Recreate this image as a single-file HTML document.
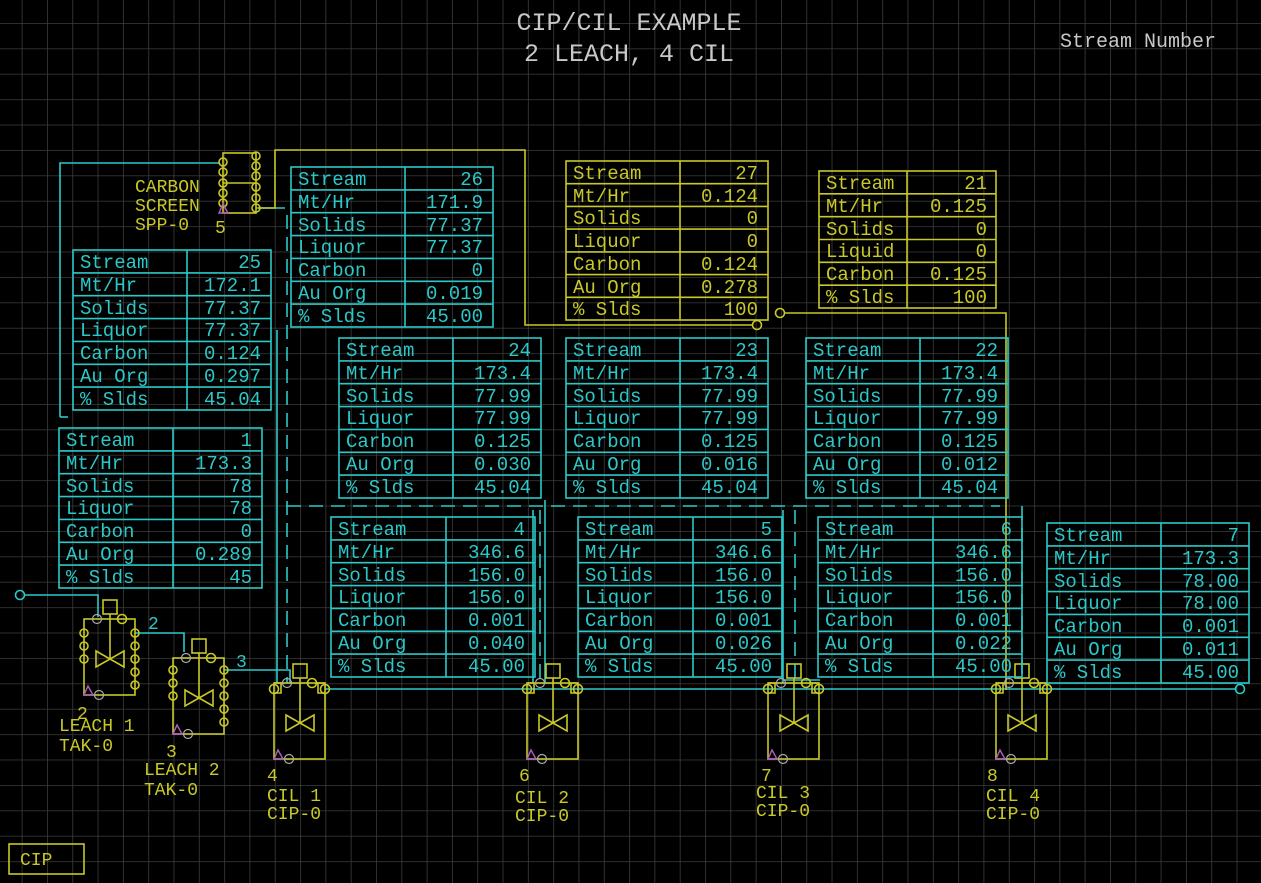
<!DOCTYPE html>
<html><head><meta charset="utf-8"><style>
html,body{margin:0;padding:0;background:#000;}
svg{display:block;}
text{font-family:"Liberation Mono",monospace;}
.c{fill:none;stroke:#2cc8c8;stroke-width:1.6}
.y{fill:none;stroke:#c8c828;stroke-width:1.6}
.tc{fill:#2cc8c8;font-size:19px}
.ty{fill:#c8c828;font-size:19px}
.e{text-anchor:end}
.lbl{fill:#c8c828;font-size:18px}
</style></head><body>
<svg width="1261" height="883" viewBox="0 0 1261 883" xmlns="http://www.w3.org/2000/svg">
<defs>
<pattern id="g" x="21.7" y="23" width="25.31" height="25.4" patternUnits="userSpaceOnUse">
<path d="M0 0H25.31M0 0V25.4" stroke="#3c3c3c" stroke-width="1.6" fill="none"/>
</pattern>
<g id="tank">
<rect x="0" y="0" width="51" height="76" class="y"/>
<rect x="19" y="-19" width="14" height="14" class="y"/>
<path d="M26 -5V40M12 32L40 48V32L12 48Z" class="y"/>
<path d="M0 76l4-9l5 9z" fill="none" stroke="#b060c0" stroke-width="1.4"/>
<circle cx="15" cy="76" r="4.5" fill="none" stroke="#aaa" stroke-width="1.2"/>
<circle cx="13" cy="0" r="4.5" fill="none" stroke="#aaa" stroke-width="1.2"/>
<circle cx="38" cy="0" r="4.5" class="y"/>
</g>
<g id="cil">
<use href="#tank"/>
<path d="M0 0h7v10h-7M51 0h-7v10h7" class="y"/>
<circle cx="0" cy="6" r="4.5" class="y"/>
<circle cx="51" cy="6" r="4.5" class="y"/>
</g>
</defs>
<rect width="1261" height="883" fill="#000"/>
<rect width="1261" height="883" fill="url(#g)"/>

<text x="629" y="30" text-anchor="middle" fill="#c8c8c8" style="font-size:25px">CIP/CIL EXAMPLE</text>
<text x="629" y="61" text-anchor="middle" fill="#c8c8c8" style="font-size:25px">2 LEACH, 4 CIL</text>
<text x="1060" y="47" fill="#c8c8c8" style="font-size:20px">Stream Number</text>

<!-- connectors cyan -->
<path class="c" d="M25 595H98V617M135 633H184V652M224 670H290V683M325 689H1236M60 417V163H220M256 208H285M277 330V683M533 510V683M545 500V683M783 510V683M783 680H820"/>
<circle cx="20" cy="595" r="4.5" class="c"/>
<circle cx="1240" cy="689" r="4.5" class="c"/>
<path class="c" stroke-dasharray="14,8" d="M287 215V683M287 506H1000M795 510V683M1022 506V683M540 510V683"/>
<path class="c" d="M60 417h8"/>
<!-- yellow connectors -->
<path class="y" d="M258 208H275V150H525V325H752M785 313H1006V690"/>
<circle cx="757" cy="325" r="4.5" class="y"/>
<circle cx="780" cy="313" r="4.5" class="y"/>

<!-- carbon screen -->
<rect x="223" y="153" width="33" height="60" class="y"/>
<path class="y" d="M223 183H256"/>
<g class="y"><circle cx="223" cy="162" r="4"/><circle cx="223" cy="172" r="4"/><circle cx="223" cy="183" r="4"/><circle cx="223" cy="193" r="4"/><circle cx="223" cy="203" r="4"/>
<circle cx="256" cy="156" r="4"/><circle cx="256" cy="166" r="4"/><circle cx="256" cy="176" r="4"/><circle cx="256" cy="187" r="4"/><circle cx="256" cy="198" r="4"/><circle cx="256" cy="208" r="4"/></g>
<path d="M219 213l4-9l5 9z" fill="none" stroke="#b060c0" stroke-width="1.4"/>
<text class="lbl" x="135" y="192">CARBON</text>
<text class="lbl" x="135" y="211">SCREEN</text>
<text class="lbl" x="135" y="230">SPP-0</text>
<text class="lbl" x="215" y="233">5</text>

<!-- tanks -->
<use href="#tank" x="84" y="619"/>
<g class="y"><circle cx="84" cy="633" r="4"/><circle cx="84" cy="646" r="4"/><circle cx="84" cy="659" r="4"/><circle cx="135" cy="633" r="4"/><circle cx="135" cy="646" r="4"/><circle cx="135" cy="659" r="4"/><circle cx="135" cy="672" r="4"/><circle cx="135" cy="685" r="4"/></g>
<use href="#tank" x="173" y="658"/>
<g class="y"><circle cx="173" cy="670" r="4"/><circle cx="173" cy="683" r="4"/><circle cx="173" cy="696" r="4"/><circle cx="224" cy="670" r="4"/><circle cx="224" cy="683" r="4"/><circle cx="224" cy="696" r="4"/><circle cx="224" cy="709" r="4"/><circle cx="224" cy="722" r="4"/></g>
<use href="#cil" x="274" y="683"/>
<use href="#cil" x="527" y="683"/>
<use href="#cil" x="768" y="683"/>
<use href="#cil" x="996" y="683"/>

<text class="lbl" x="77" y="719">2</text>
<text class="lbl" x="59" y="731">LEACH 1</text>
<text class="lbl" x="59" y="751">TAK-0</text>
<text class="lbl" x="166" y="757">3</text>
<text class="lbl" x="144" y="775">LEACH 2</text>
<text class="lbl" x="144" y="795">TAK-0</text>
<text class="lbl" x="267" y="781">4</text>
<text class="lbl" x="267" y="801">CIL 1</text>
<text class="lbl" x="267" y="819">CIP-0</text>
<text class="lbl" x="519" y="781">6</text>
<text class="lbl" x="515" y="803">CIL 2</text>
<text class="lbl" x="515" y="821">CIP-0</text>
<text class="lbl" x="761" y="781">7</text>
<text class="lbl" x="756" y="798">CIL 3</text>
<text class="lbl" x="756" y="816">CIP-0</text>
<text class="lbl" x="987" y="781">8</text>
<text class="lbl" x="986" y="801">CIL 4</text>
<text class="lbl" x="986" y="819">CIP-0</text>
<text class="tc" x="148" y="629" style="font-size:18px">2</text>
<text class="tc" x="236" y="667" style="font-size:18px">3</text>

<rect x="9" y="844" width="75" height="30" class="y"/>
<text class="lbl" x="20" y="865">CIP</text>

<!-- tables -->
<g transform="translate(291,167)">
<rect width="202" height="160" class="c"/><path class="c" d="M114 0V160M0 22.9H202M0 45.7H202M0 68.6H202M0 91.4H202M0 114.3H202M0 137.1H202"/>
<text class="tc" x="7" y="18">Stream</text><text class="tc e" x="192" y="18">26</text>
<text class="tc" x="7" y="41">Mt/Hr</text><text class="tc e" x="192" y="41">171.9</text>
<text class="tc" x="7" y="64">Solids</text><text class="tc e" x="192" y="64">77.37</text>
<text class="tc" x="7" y="86">Liquor</text><text class="tc e" x="192" y="86">77.37</text>
<text class="tc" x="7" y="109">Carbon</text><text class="tc e" x="192" y="109">0</text>
<text class="tc" x="7" y="132">Au Org</text><text class="tc e" x="192" y="132">0.019</text>
<text class="tc" x="7" y="155">% Slds</text><text class="tc e" x="192" y="155">45.00</text>
</g>
<g transform="translate(73,250)">
<rect width="198" height="160" class="c"/><path class="c" d="M114 0V160M0 22.9H198M0 45.7H198M0 68.6H198M0 91.4H198M0 114.3H198M0 137.1H198"/>
<text class="tc" x="7" y="18">Stream</text><text class="tc e" x="188" y="18">25</text>
<text class="tc" x="7" y="41">Mt/Hr</text><text class="tc e" x="188" y="41">172.1</text>
<text class="tc" x="7" y="64">Solids</text><text class="tc e" x="188" y="64">77.37</text>
<text class="tc" x="7" y="86">Liquor</text><text class="tc e" x="188" y="86">77.37</text>
<text class="tc" x="7" y="109">Carbon</text><text class="tc e" x="188" y="109">0.124</text>
<text class="tc" x="7" y="132">Au Org</text><text class="tc e" x="188" y="132">0.297</text>
<text class="tc" x="7" y="155">% Slds</text><text class="tc e" x="188" y="155">45.04</text>
</g>
<g transform="translate(59,428)">
<rect width="203" height="160" class="c"/><path class="c" d="M114 0V160M0 22.9H203M0 45.7H203M0 68.6H203M0 91.4H203M0 114.3H203M0 137.1H203"/>
<text class="tc" x="7" y="18">Stream</text><text class="tc e" x="193" y="18">1</text>
<text class="tc" x="7" y="41">Mt/Hr</text><text class="tc e" x="193" y="41">173.3</text>
<text class="tc" x="7" y="64">Solids</text><text class="tc e" x="193" y="64">78</text>
<text class="tc" x="7" y="86">Liquor</text><text class="tc e" x="193" y="86">78</text>
<text class="tc" x="7" y="109">Carbon</text><text class="tc e" x="193" y="109">0</text>
<text class="tc" x="7" y="132">Au Org</text><text class="tc e" x="193" y="132">0.289</text>
<text class="tc" x="7" y="155">% Slds</text><text class="tc e" x="193" y="155">45</text>
</g>
<g transform="translate(566,161)">
<rect width="202" height="159" class="y"/><path class="y" d="M114 0V159M0 22.7H202M0 45.4H202M0 68.1H202M0 90.9H202M0 113.6H202M0 136.3H202"/>
<text class="ty" x="7" y="18">Stream</text><text class="ty e" x="192" y="18">27</text>
<text class="ty" x="7" y="41">Mt/Hr</text><text class="ty e" x="192" y="41">0.124</text>
<text class="ty" x="7" y="63">Solids</text><text class="ty e" x="192" y="63">0</text>
<text class="ty" x="7" y="86">Liquor</text><text class="ty e" x="192" y="86">0</text>
<text class="ty" x="7" y="109">Carbon</text><text class="ty e" x="192" y="109">0.124</text>
<text class="ty" x="7" y="132">Au Org</text><text class="ty e" x="192" y="132">0.278</text>
<text class="ty" x="7" y="154">% Slds</text><text class="ty e" x="192" y="154">100</text>
</g>
<g transform="translate(819,171)">
<rect width="177" height="137" class="y"/><path class="y" d="M88 0V137M0 22.8H177M0 45.7H177M0 68.5H177M0 91.3H177M0 114.2H177"/>
<text class="ty" x="7" y="18">Stream</text><text class="ty e" x="168" y="18">21</text>
<text class="ty" x="7" y="41">Mt/Hr</text><text class="ty e" x="168" y="41">0.125</text>
<text class="ty" x="7" y="64">Solids</text><text class="ty e" x="168" y="64">0</text>
<text class="ty" x="7" y="86">Liquid</text><text class="ty e" x="168" y="86">0</text>
<text class="ty" x="7" y="109">Carbon</text><text class="ty e" x="168" y="109">0.125</text>
<text class="ty" x="7" y="132">% Slds</text><text class="ty e" x="168" y="132">100</text>
</g>
<g transform="translate(339,338)">
<rect width="202" height="160" class="c"/><path class="c" d="M114 0V160M0 22.9H202M0 45.7H202M0 68.6H202M0 91.4H202M0 114.3H202M0 137.1H202"/>
<text class="tc" x="7" y="18">Stream</text><text class="tc e" x="192" y="18">24</text>
<text class="tc" x="7" y="41">Mt/Hr</text><text class="tc e" x="192" y="41">173.4</text>
<text class="tc" x="7" y="64">Solids</text><text class="tc e" x="192" y="64">77.99</text>
<text class="tc" x="7" y="86">Liquor</text><text class="tc e" x="192" y="86">77.99</text>
<text class="tc" x="7" y="109">Carbon</text><text class="tc e" x="192" y="109">0.125</text>
<text class="tc" x="7" y="132">Au Org</text><text class="tc e" x="192" y="132">0.030</text>
<text class="tc" x="7" y="155">% Slds</text><text class="tc e" x="192" y="155">45.04</text>
</g>
<g transform="translate(566,338)">
<rect width="202" height="160" class="c"/><path class="c" d="M114 0V160M0 22.9H202M0 45.7H202M0 68.6H202M0 91.4H202M0 114.3H202M0 137.1H202"/>
<text class="tc" x="7" y="18">Stream</text><text class="tc e" x="192" y="18">23</text>
<text class="tc" x="7" y="41">Mt/Hr</text><text class="tc e" x="192" y="41">173.4</text>
<text class="tc" x="7" y="64">Solids</text><text class="tc e" x="192" y="64">77.99</text>
<text class="tc" x="7" y="86">Liquor</text><text class="tc e" x="192" y="86">77.99</text>
<text class="tc" x="7" y="109">Carbon</text><text class="tc e" x="192" y="109">0.125</text>
<text class="tc" x="7" y="132">Au Org</text><text class="tc e" x="192" y="132">0.016</text>
<text class="tc" x="7" y="155">% Slds</text><text class="tc e" x="192" y="155">45.04</text>
</g>
<g transform="translate(806,338)">
<rect width="202" height="160" class="c"/><path class="c" d="M114 0V160M0 22.9H202M0 45.7H202M0 68.6H202M0 91.4H202M0 114.3H202M0 137.1H202"/>
<text class="tc" x="7" y="18">Stream</text><text class="tc e" x="192" y="18">22</text>
<text class="tc" x="7" y="41">Mt/Hr</text><text class="tc e" x="192" y="41">173.4</text>
<text class="tc" x="7" y="64">Solids</text><text class="tc e" x="192" y="64">77.99</text>
<text class="tc" x="7" y="86">Liquor</text><text class="tc e" x="192" y="86">77.99</text>
<text class="tc" x="7" y="109">Carbon</text><text class="tc e" x="192" y="109">0.125</text>
<text class="tc" x="7" y="132">Au Org</text><text class="tc e" x="192" y="132">0.012</text>
<text class="tc" x="7" y="155">% Slds</text><text class="tc e" x="192" y="155">45.04</text>
</g>
<g transform="translate(331,517)">
<rect width="204" height="160" class="c"/><path class="c" d="M115 0V160M0 22.9H204M0 45.7H204M0 68.6H204M0 91.4H204M0 114.3H204M0 137.1H204"/>
<text class="tc" x="7" y="18">Stream</text><text class="tc e" x="194" y="18">4</text>
<text class="tc" x="7" y="41">Mt/Hr</text><text class="tc e" x="194" y="41">346.6</text>
<text class="tc" x="7" y="64">Solids</text><text class="tc e" x="194" y="64">156.0</text>
<text class="tc" x="7" y="86">Liquor</text><text class="tc e" x="194" y="86">156.0</text>
<text class="tc" x="7" y="109">Carbon</text><text class="tc e" x="194" y="109">0.001</text>
<text class="tc" x="7" y="132">Au Org</text><text class="tc e" x="194" y="132">0.040</text>
<text class="tc" x="7" y="155">% Slds</text><text class="tc e" x="194" y="155">45.00</text>
</g>
<g transform="translate(578,517)">
<rect width="204" height="160" class="c"/><path class="c" d="M115 0V160M0 22.9H204M0 45.7H204M0 68.6H204M0 91.4H204M0 114.3H204M0 137.1H204"/>
<text class="tc" x="7" y="18">Stream</text><text class="tc e" x="194" y="18">5</text>
<text class="tc" x="7" y="41">Mt/Hr</text><text class="tc e" x="194" y="41">346.6</text>
<text class="tc" x="7" y="64">Solids</text><text class="tc e" x="194" y="64">156.0</text>
<text class="tc" x="7" y="86">Liquor</text><text class="tc e" x="194" y="86">156.0</text>
<text class="tc" x="7" y="109">Carbon</text><text class="tc e" x="194" y="109">0.001</text>
<text class="tc" x="7" y="132">Au Org</text><text class="tc e" x="194" y="132">0.026</text>
<text class="tc" x="7" y="155">% Slds</text><text class="tc e" x="194" y="155">45.00</text>
</g>
<g transform="translate(818,517)">
<rect width="204" height="160" class="c"/><path class="c" d="M115 0V160M0 22.9H204M0 45.7H204M0 68.6H204M0 91.4H204M0 114.3H204M0 137.1H204"/>
<text class="tc" x="7" y="18">Stream</text><text class="tc e" x="194" y="18">6</text>
<text class="tc" x="7" y="41">Mt/Hr</text><text class="tc e" x="194" y="41">346.6</text>
<text class="tc" x="7" y="64">Solids</text><text class="tc e" x="194" y="64">156.0</text>
<text class="tc" x="7" y="86">Liquor</text><text class="tc e" x="194" y="86">156.0</text>
<text class="tc" x="7" y="109">Carbon</text><text class="tc e" x="194" y="109">0.001</text>
<text class="tc" x="7" y="132">Au Org</text><text class="tc e" x="194" y="132">0.022</text>
<text class="tc" x="7" y="155">% Slds</text><text class="tc e" x="194" y="155">45.00</text>
</g>
<g transform="translate(1047,523)">
<rect width="202" height="160" class="c"/><path class="c" d="M114 0V160M0 22.9H202M0 45.7H202M0 68.6H202M0 91.4H202M0 114.3H202M0 137.1H202"/>
<text class="tc" x="7" y="18">Stream</text><text class="tc e" x="192" y="18">7</text>
<text class="tc" x="7" y="41">Mt/Hr</text><text class="tc e" x="192" y="41">173.3</text>
<text class="tc" x="7" y="64">Solids</text><text class="tc e" x="192" y="64">78.00</text>
<text class="tc" x="7" y="86">Liquor</text><text class="tc e" x="192" y="86">78.00</text>
<text class="tc" x="7" y="109">Carbon</text><text class="tc e" x="192" y="109">0.001</text>
<text class="tc" x="7" y="132">Au Org</text><text class="tc e" x="192" y="132">0.011</text>
<text class="tc" x="7" y="155">% Slds</text><text class="tc e" x="192" y="155">45.00</text>
</g>
</svg>
</body></html>
